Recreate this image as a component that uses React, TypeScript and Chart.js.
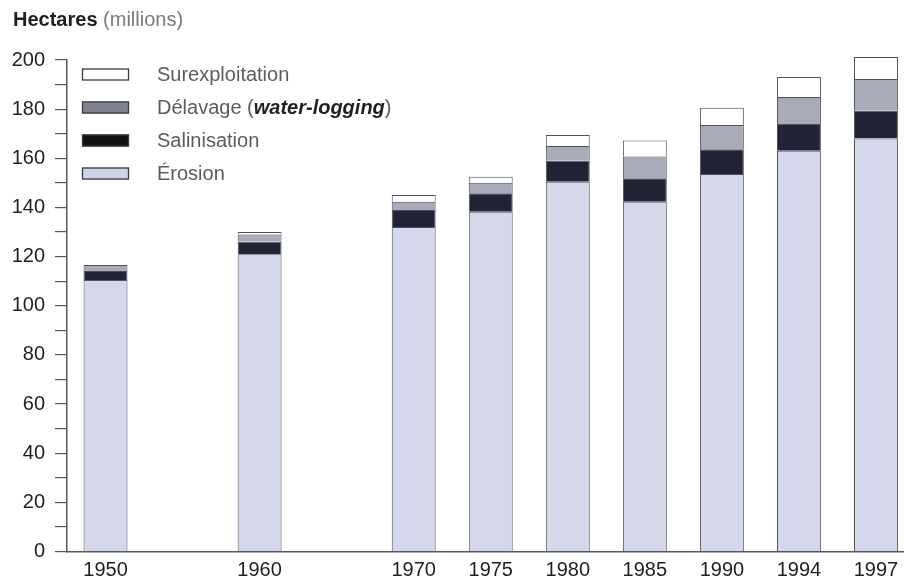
import React, { useEffect, useRef } from "react";
import { Chart, registerables } from "chart.js";

Chart.register(...registerables);

// Categories (empty strings are the unlabeled gaps of the original axis)
const years = ["1950", "", "1960", "", "1970", "1975", "1980", "1985", "1990", "1994", "1997"];

// Series values (millions of hectares)
const erosion = [110.5, null, 121, null, 132, 138.3, 150.5, 142.3, 153.6, 163.1, 168.1];
const salinisation = [3.6, null, 5, null, 7, 7.5, 8.5, 9.6, 10.1, 10.9, 11.2];
const delavage = [2.5, null, 3, null, 3.3, 4.3, 6, 8.8, 9.9, 10.9, 13];
const surexploitation = [0, null, 1, null, 2.8, 2.4, 4.5, 6.5, 7, 8.2, 8.9];

const seriesLabels = ["Érosion", "Salinisation", "Délavage (water-logging)", "Surexploitation"];
const titleMain = "Hectares";
const titleUnit = "(millions)";

const FONT = '"Liberation Sans", Arial, Helvetica, sans-serif';

const legendPlugin = {
  id: "customLegendTitle",
  afterDraw(chart: any) {
    const ctx = chart.ctx as CanvasRenderingContext2D;
    ctx.save();
    ctx.textBaseline = "alphabetic";
    ctx.textAlign = "left";
    // Title
    ctx.font = `bold 20px ${FONT}`;
    ctx.fillStyle = "#1f1f1f";
    ctx.fillText(titleMain, 13, 26);
    const w = ctx.measureText(titleMain + " ").width;
    ctx.font = `20px ${FONT}`;
    ctx.fillStyle = "#7a7a7a";
    ctx.fillText(titleUnit, 13 + w, 26);

    // Legend (reverse order of stacking)
    const ds = chart.data.datasets.slice().reverse();
    ds.forEach((d: any, i: number) => {
      const top = 68.5 + i * 33;
      ctx.fillStyle = d.legendColor || d.backgroundColor;
      ctx.fillRect(82, top, 47, 12);
      ctx.strokeStyle = "#3a3a44";
      ctx.lineWidth = 1.3;
      ctx.strokeRect(82.5, top + 0.5, 46, 11);
      const y = top + 12.5;
      let x = 157;
      const m = /^(.*\()(.+)(\))$/.exec(d.label);
      if (m) {
        ctx.font = `20px ${FONT}`;
        ctx.fillStyle = "#5c5c5c";
        ctx.fillText(m[1], x, y);
        x += ctx.measureText(m[1]).width;
        ctx.font = `italic bold 20px ${FONT}`;
        ctx.fillStyle = "#1f1f1f";
        ctx.fillText(m[2], x, y);
        x += ctx.measureText(m[2]).width;
        ctx.font = `20px ${FONT}`;
        ctx.fillStyle = "#5c5c5c";
        ctx.fillText(m[3], x, y);
      } else {
        ctx.font = `20px ${FONT}`;
        ctx.fillStyle = "#5c5c5c";
        ctx.fillText(d.label, x, y);
      }
    });
    ctx.restore();
  },
};

export default function App() {
  const ref = useRef<HTMLCanvasElement | null>(null);

  useEffect(() => {
    if (!ref.current) return;
    const border = "#4e5160";
    const common = {
      borderColor: border,
      borderWidth: 1,
      categoryPercentage: 1,
      barPercentage: 0.57,
      stack: "s",
      clip: false,
    };
    const chart = new Chart(ref.current, {
      type: "bar",
      data: {
        labels: years,
        datasets: [
          { ...common, label: seriesLabels[0], data: erosion, backgroundColor: "#d5d8e9", legendColor: "#cfd3e6" } as any,
          { ...common, label: seriesLabels[1], data: salinisation, backgroundColor: "#222435", legendColor: "#111" } as any,
          { ...common, label: seriesLabels[2], data: delavage, backgroundColor: "#a9abb6", legendColor: "#80838f" } as any,
          { ...common, label: seriesLabels[3], data: surexploitation, backgroundColor: "#ffffff", legendColor: "#ffffff" } as any,
        ],
      },
      options: {
        responsive: false,
        animation: false,
        devicePixelRatio: 1,
        layout: { padding: { top: 60, right: 1.5, left: 0, bottom: 0 } },
        plugins: {
          legend: { display: false },
          title: { display: false },
          tooltip: { enabled: false },
        },
        scales: {
          x: {
            stacked: true,
            offset: true,
            grid: { display: true, drawOnChartArea: false, drawTicks: false },
            border: { display: true, color: "#55585f", width: 1.5 },
            ticks: {
              color: "#1f1f1f",
              font: { family: FONT, size: 20 },
              padding: 7,
              autoSkip: false,
              maxRotation: 0,
            },
            afterFit(scale: any) {
              scale.height = 28.5;
            },
          },
          y: {
            stacked: true,
            min: 0,
            max: 200,
            grid: {
              display: true,
              drawOnChartArea: false,
              drawTicks: true,
              tickLength: 12,
              color: "#55585f",
              lineWidth: 1.2,
            },
            border: { display: true, color: "#55585f", width: 1.5 },
            ticks: {
              stepSize: 10,
              autoSkip: false,
              color: "#1f1f1f",
              font: { family: FONT, size: 20 },
              padding: 10,
              callback: (v: any) => (Number(v) % 20 === 0 ? String(v) : ""),
            },
            afterFit(scale: any) {
              scale.width = 67;
            },
          },
        },
      } as any,
      plugins: [legendPlugin],
    });
    return () => chart.destroy();
  }, []);

  return (
    <div
      style={{
        position: "absolute",
        left: 0,
        top: 0,
        width: 904,
        height: 580,
        overflow: "hidden",
        background: "#fff",
      }}
    >
      <canvas ref={ref} width={916} height={580} style={{ width: 916, height: 580, display: "block" }} />
    </div>
  );
}
